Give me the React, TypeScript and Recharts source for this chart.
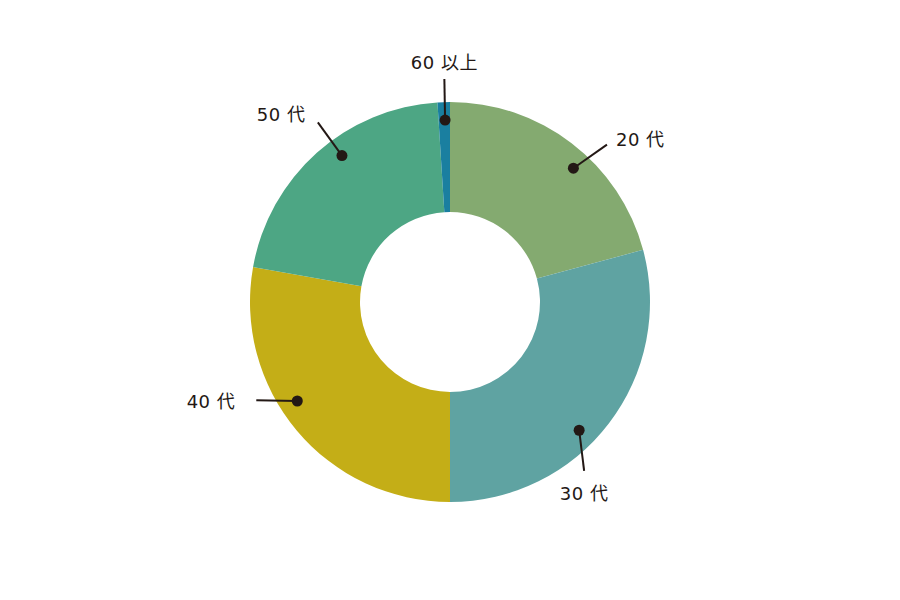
import { Cell, Pie, PieChart } from "recharts";

// 年代別の構成比 (%)
const ageGroups = ["20 代", "30 代", "40 代", "50 代", "60 以上"];
const shares = [20.8, 29.2, 27.8, 21.2, 1.0];
const colors = ["#84aa70", "#5fa3a2", "#c4ae17", "#4da684", "#1a7fa0"];
// direction of each leader line, degrees clockwise from 12 o'clock
const leaderDirs = [55, 173, 271, 324, 359];

const data = ageGroups.map((name, i) => ({ name, value: shares[i] }));

const RADIAN = Math.PI / 180;

function renderLabel(props: any) {
    const { cx, cy, startAngle, endAngle, index } = props;
    // dot sits a bit past the middle of the slice
    const a = (startAngle + 0.57 * (endAngle - startAngle)) * RADIAN;
    const dx = cx + 182 * Math.cos(a);
    const dy = cy - 182 * Math.sin(a);
    const d = leaderDirs[index] * RADIAN;
    const s = Math.sin(d);
    const c = Math.cos(d);
    const ex = dx + 41 * s;
    const ey = dy - 41 * c;
    let anchor = "middle";
    let tx = ex;
    let ty = ey;
    if (Math.abs(s) > 0.5) {
        anchor = s > 0 ? "start" : "end";
        tx = ex + (s > 0 ? 9 : 21 * s);
        ty = ey + 8 - 12 * Math.max(c, 0);
    } else {
        ty = c > 0 ? ey - 10 : ey + 29;
    }
    return (
        <g key={"lbl" + index}>
            <line x1={dx} y1={dy} x2={ex} y2={ey} stroke="#231815" strokeWidth={2} />
            <circle cx={dx} cy={dy} r={5.5} fill="#231815" />
            <text x={tx} y={ty} textAnchor={anchor} fill="#231815" fontSize={18}
                fontFamily="'DejaVu Sans', 'Noto Sans CJK JP', sans-serif" letterSpacing={0.5}>
                {ageGroups[index]}
            </text>
        </g>
    );
}

export default function App() {
    return (
        <div style={{ position: "fixed", left: 0, top: 0, background: "#fff" }}>
            <PieChart width={900} height={600} margin={{ top: 0, right: 0, bottom: 0, left: 0 }}>
                <Pie data={data} dataKey="value" nameKey="name" cx={450} cy={302}
                    innerRadius={90} outerRadius={200} startAngle={90} endAngle={-270}
                    stroke="none" label={renderLabel} labelLine={false} isAnimationActive={false}>
                    {data.map((d, i) => (
                        <Cell key={d.name} fill={colors[i]} />
                    ))}
                </Pie>
            </PieChart>
        </div>
    );
}
